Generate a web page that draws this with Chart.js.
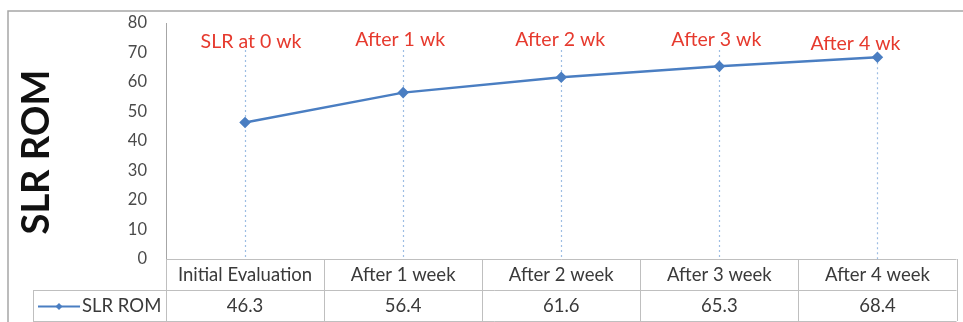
<!DOCTYPE html>
<html>
<head>
<meta charset="utf-8">
<title>SLR ROM</title>
<script src="https://cdn.jsdelivr.net/npm/chart.js@4/dist/chart.umd.min.js"></script>
<style>
  html, body { margin: 0; padding: 0; background: #ffffff; }
  canvas { display: block; }
</style>
</head>
<body>
<canvas id="chart" width="963" height="322"></canvas>
<script>
// Assessment points and straight-leg-raise range of motion (degrees)
const categories = ['Initial Evaluation', 'After 1 week', 'After 2 week', 'After 3 week', 'After 4 week'];
const slrRom = [46.3, 56.4, 61.6, 65.3, 68.4];
const stageLabels = ['SLR at 0 wk', 'After 1 wk', 'After 2 wk', 'After 3 wk', 'After 4 wk'];
const seriesName = 'SLR ROM';
const yTicks = [0, 10, 20, 30, 40, 50, 60, 70, 80];

// Small horizontal shifts and baselines for the red stage captions
const captionNudgeX = [6, -3, -1, -3, -22];
const captionNudgeY = [42, 40, 40, 40, 44];

const FONT = 'Lato, "Open Sans", "Liberation Sans", sans-serif';
const LINE_BLUE = '#4a7ec2';
const GRID_GREY = '#bfbfbf';
const TEXT_GREY = '#3a3a3a';

const decorations = {
  id: 'decorations',
  beforeDatasetsDraw(chart) {
    const { ctx, chartArea } = chart;
    const x = chart.scales.x;
    const y = chart.scales.y;
    ctx.save();
    // dotted drop lines from each caption down to the axis
    ctx.strokeStyle = '#9dbde3';
    ctx.lineWidth = 1.2;
    ctx.setLineDash([2, 3]);
    slrRom.forEach((v, i) => {
      const px = Math.round(x.getPixelForValue(i)) + 0.5;
      const top = i === slrRom.length - 1 ? y.getPixelForValue(v) : 50;
      ctx.beginPath();
      ctx.moveTo(px, top);
      ctx.lineTo(px, chartArea.bottom);
      ctx.stroke();
    });
    ctx.restore();
  },
  afterDraw(chart) {
    const { ctx, chartArea } = chart;
    const x = chart.scales.x;
    const left = chartArea.left, right = chartArea.right, bottom = chartArea.bottom;
    const n = categories.length;
    const colW = (right - left) / n;
    const row1Bottom = bottom + 31;
    const row2Bottom = 321;
    const legendLeft = 33;

    ctx.save();
    // outer frame (top and left edges)
    ctx.strokeStyle = '#a6a6a6';
    ctx.lineWidth = 1.5;
    ctx.beginPath();
    ctx.moveTo(8, 322);
    ctx.lineTo(8, 11);
    ctx.lineTo(963, 11);
    ctx.stroke();

    // data table grid
    ctx.strokeStyle = GRID_GREY;
    ctx.lineWidth = 1;
    ctx.beginPath();
    ctx.moveTo(left, bottom + 0.5); ctx.lineTo(right, bottom + 0.5);
    ctx.moveTo(legendLeft, row1Bottom + 0.5); ctx.lineTo(right, row1Bottom + 0.5);
    ctx.moveTo(legendLeft, row2Bottom + 0.5); ctx.lineTo(right, row2Bottom + 0.5);
    ctx.moveTo(legendLeft + 0.5, row1Bottom); ctx.lineTo(legendLeft + 0.5, row2Bottom);
    for (let i = 0; i <= n; i++) {
      const gx = Math.round(left + i * colW) + 0.5;
      ctx.moveTo(gx, bottom); ctx.lineTo(gx, row2Bottom);
    }
    ctx.stroke();

    // table text
    ctx.fillStyle = TEXT_GREY;
    ctx.font = '18.5px ' + FONT;
    ctx.textAlign = 'center';
    ctx.textBaseline = 'middle';
    categories.forEach((c, i) => {
      const cx = x.getPixelForValue(i);
      ctx.fillText(c, cx, (bottom + row1Bottom) / 2 + 1);
      ctx.fillText(slrRom[i].toFixed(1), cx, (row1Bottom + row2Bottom) / 2 + 1);
    });

    // legend key in the table
    const ky = (row1Bottom + row2Bottom) / 2 + 1;
    ctx.strokeStyle = LINE_BLUE;
    ctx.lineWidth = 2;
    ctx.beginPath();
    ctx.moveTo(38, ky); ctx.lineTo(80, ky);
    ctx.stroke();
    ctx.fillStyle = LINE_BLUE;
    ctx.beginPath();
    ctx.moveTo(59, ky - 3.5); ctx.lineTo(62.5, ky); ctx.lineTo(59, ky + 3.5); ctx.lineTo(55.5, ky);
    ctx.closePath();
    ctx.fill();
    ctx.fillStyle = TEXT_GREY;
    ctx.textAlign = 'left';
    ctx.fillText(seriesName, 82, ky);

    // red stage captions
    ctx.fillStyle = '#e63a2e';
    ctx.font = '19.5px ' + FONT;
    ctx.textAlign = 'center';
    stageLabels.forEach((s, i) => {
      ctx.fillText(s, x.getPixelForValue(i) + captionNudgeX[i], captionNudgeY[i]);
    });

    // vertical axis title
    ctx.fillStyle = '#111111';
    ctx.font = 'bold 38px ' + FONT;
    ctx.translate(37, 152);
    ctx.rotate(-Math.PI / 2);
    ctx.textAlign = 'center';
    ctx.fillText(seriesName, 0, 0);
    ctx.restore();
  }
};

new Chart(document.getElementById('chart'), {
  type: 'line',
  data: {
    labels: categories,
    datasets: [{
      label: seriesName,
      data: slrRom,
      borderColor: LINE_BLUE,
      backgroundColor: LINE_BLUE,
      borderWidth: 2.5,
      pointStyle: 'rectRot',
      pointRadius: 4,
      pointBackgroundColor: LINE_BLUE,
      pointBorderColor: LINE_BLUE,
      tension: 0
    }]
  },
  options: {
    responsive: false,
    animation: false,
    devicePixelRatio: 1,
    layout: { padding: { left: 0, top: 23, right: 4, bottom: 63 } },
    plugins: {
      legend: { display: false },
      tooltip: { enabled: false },
      title: { display: false }
    },
    scales: {
      x: {
        type: 'category',
        display: false,
        offset: true
      },
      y: {
        min: yTicks[0],
        max: yTicks[yTicks.length - 1],
        afterFit(scale) { scale.width = 166; },
        afterBuildTicks(scale) { scale.ticks = yTicks.map(v => ({ value: v })); },
        // tick marks are not drawn; their length only spaces the labels from the axis
        grid: { display: false, drawTicks: true, tickLength: 19 },
        border: { display: true, color: '#a6a6a6', width: 1 },
        ticks: {
          padding: 0,
          color: '#4a4a4a',
          font: { family: FONT, size: 16.5 }
        }
      }
    }
  },
  plugins: [decorations]
});
</script>
</body>
</html>
